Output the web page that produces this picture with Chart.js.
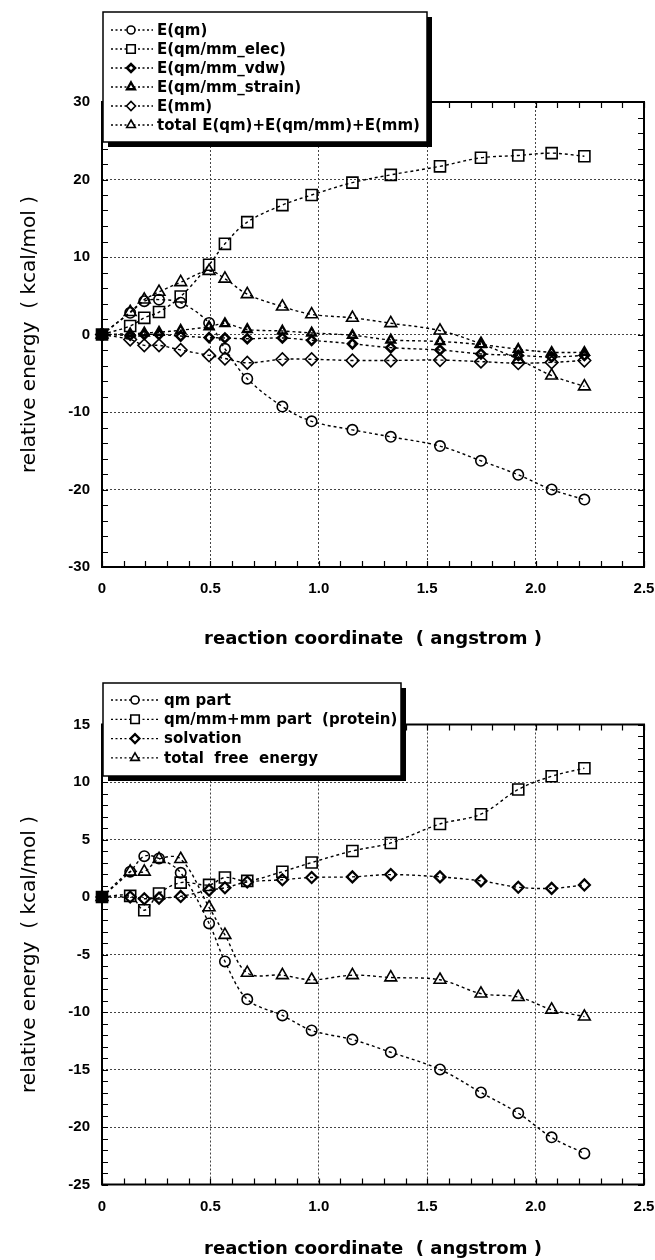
<!DOCTYPE html>
<html>
<head>
<meta charset="utf-8">
<script src="https://cdn.jsdelivr.net/npm/chart.js@4.4.1/dist/chart.umd.min.js"></script>
<style>
html,body{margin:0;padding:0;background:#fff;}
canvas{display:block;}
</style>
</head>
<body>
<canvas id="c1" width="655" height="650"></canvas>
<canvas id="c2" width="655" height="610"></canvas>
<script>
// ---------- data ----------
const xCoord = [0, 0.13, 0.195, 0.263, 0.363, 0.494, 0.567, 0.67, 0.832, 0.967, 1.155, 1.332, 1.559, 1.748, 1.92, 2.074, 2.225];
const xTicks = [0, 0.5, 1, 1.5, 2, 2.5];

const topLabels = ['E(qm)', 'E(qm/mm_elec)', 'E(qm/mm_vdw)', 'E(qm/mm_strain)', 'E(mm)', 'total E(qm)+E(qm/mm)+E(mm)'];
const eQm     = [0, 2.8, 4.3, 4.5, 4.1, 1.5, -1.85, -5.7, -9.3, -11.2, -12.3, -13.2, -14.4, -16.3, -18.1, -20.0, -21.3];
const eElec   = [0, 1.1, 2.15, 2.9, 4.9, 9.0, 11.7, 14.5, 16.7, 18.0, 19.6, 20.6, 21.7, 22.8, 23.1, 23.4, 23.0];
const eVdw    = [0, -0.1, 0, 0, -0.2, -0.4, -0.45, -0.55, -0.45, -0.75, -1.2, -1.7, -2.0, -2.5, -2.7, -2.9, -2.7];
const eStrain = [0, 0.1, 0.2, 0.3, 0.55, 1.0, 1.4, 0.65, 0.45, 0.2, -0.1, -0.7, -0.9, -1.3, -1.9, -2.3, -2.3];
const eMm     = [0, -0.65, -1.4, -1.4, -2.0, -2.7, -3.1, -3.65, -3.2, -3.2, -3.35, -3.35, -3.3, -3.5, -3.7, -3.6, -3.35];
const eTotal  = [0, 2.9, 4.5, 5.5, 6.75, 8.2, 7.2, 5.2, 3.6, 2.6, 2.15, 1.45, 0.5, -1.2, -3.2, -5.3, -6.7];
const topYTicks = [-30, -20, -10, 0, 10, 20, 30];

const botLabels = ['qm part', 'qm/mm+mm part  (protein)', 'solvation', 'total  free  energy'];
const qmPart    = [0, 2.2, 3.55, 3.35, 2.1, -2.3, -5.6, -8.9, -10.3, -11.6, -12.4, -13.5, -15.0, -17.0, -18.8, -20.9, -22.3];
const protein   = [0, 0.1, -1.15, 0.3, 1.25, 1.05, 1.7, 1.4, 2.2, 3.0, 4.0, 4.7, 6.35, 7.2, 9.35, 10.5, 11.2];
const solvation = [0, 0, -0.15, -0.1, 0.05, 0.6, 0.8, 1.3, 1.5, 1.7, 1.75, 1.95, 1.75, 1.4, 0.85, 0.75, 1.05];
const totalFree = [0, 2.2, 2.2, 3.3, 3.3, -0.9, -3.3, -6.6, -6.8, -7.2, -6.8, -7.0, -7.2, -8.4, -8.7, -9.8, -10.4];
const botYTicks = [-25, -20, -15, -10, -5, 0, 5, 10, 15];

const xTitle = 'reaction coordinate  ( angstrom )';
const yTitle = 'relative energy  ( kcal/mol )';

// ---------- styles ----------
const topMarkers = [
  {style: 'circle', r: 5.2, bw: 1.6, lr: 4},
  {style: 'rect', r: 7.8, bw: 1.6, lr: 6},
  {style: 'rectRot', r: 4.5, bw: 2.6, lr: 4},
  {style: 'triangle', r: 5, bw: 2.4, lr: 4.5},
  {style: 'rectRot', r: 6.3, bw: 1.6, lr: 4.5},
  {style: 'triangle', r: 6.8, bw: 1.6, lr: 5}
];
const botMarkers = [
  {style: 'circle', r: 5.2, bw: 1.6, lr: 4},
  {style: 'rect', r: 7.8, bw: 1.6, lr: 6},
  {style: 'rectRot', r: 5.5, bw: 2.2, lr: 4.5},
  {style: 'triangle', r: 6.8, bw: 1.6, lr: 5}
];

Chart.defaults.font.family = 'DejaVu Sans';
Chart.defaults.color = '#000';

function buildDatasets(labels, series, markers) {
  return series.map((vals, i) => ({
    label: labels[i],
    data: xCoord.map((x, j) => ({x: x, y: vals[j]})),
    showLine: true,
    borderColor: '#000',
    borderWidth: 1.4,
    borderDash: [3, 3],
    tension: 0.35,
    pointStyle: markers[i].style,
    pointRadius: markers[i].r,
    pointHoverRadius: markers[i].r,
    pointBorderWidth: markers[i].bw,
    pointBorderColor: '#000',
    pointBackgroundColor: markers[i].style === 'rect' ? xCoord.map((x, j) => j === 0 ? '#000' : 'rgba(0,0,0,0)') : 'rgba(0,0,0,0)',
    clip: false,
    _legendR: markers[i].lr
  }));
}

const decorPlugin = {
  id: 'decor',
  afterDraw(chart, args, opts) {
    const {ctx, chartArea: a, scales: {x, y}} = chart;
    ctx.save();
    ctx.strokeStyle = '#000';
    ctx.lineWidth = 1.2;
    ctx.setLineDash([]);
    const tl = 6;
    ctx.beginPath();
    const nx = Math.round((x.max - x.min) / opts.xMinor);
    for (let i = 0; i <= nx; i++) {
      const px = Math.round(x.getPixelForValue(x.min + i * opts.xMinor)) + 0.5;
      ctx.moveTo(px, a.bottom); ctx.lineTo(px, a.bottom - tl);
      ctx.moveTo(px, a.top); ctx.lineTo(px, a.top + tl);
    }
    const ny = Math.round((y.max - y.min) / opts.yMinor);
    for (let i = 0; i <= ny; i++) {
      const py = Math.round(y.getPixelForValue(y.min + i * opts.yMinor)) + 0.5;
      ctx.moveTo(a.left, py); ctx.lineTo(a.left + tl, py);
      ctx.moveTo(a.right, py); ctx.lineTo(a.right - tl, py);
    }
    ctx.stroke();
    ctx.lineWidth = 2;
    ctx.strokeRect(a.left, a.top, a.right - a.left, a.bottom - a.top);

    const L = opts.legend;
    ctx.fillStyle = '#000';
    ctx.fillRect(L.x + 5, L.y + 5, L.w, L.h);
    ctx.fillStyle = '#fff';
    ctx.fillRect(L.x, L.y, L.w, L.h);
    ctx.lineWidth = 1.5;
    ctx.strokeRect(L.x, L.y, L.w, L.h);
    ctx.font = 'bold ' + L.fontSize + 'px "DejaVu Sans"';
    ctx.textBaseline = 'middle';
    ctx.textAlign = 'left';
    chart.data.datasets.forEach((ds, i) => {
      const ry = L.row0 + i * L.rowH;
      ctx.save();
      ctx.strokeStyle = '#000';
      ctx.lineWidth = 1.3;
      ctx.setLineDash([2, 2.5]);
      ctx.beginPath();
      ctx.moveTo(L.lx1, ry); ctx.lineTo(L.lx2, ry);
      ctx.stroke();
      ctx.setLineDash([]);
      ctx.fillStyle = '#fff';
      ctx.strokeStyle = '#000';
      ctx.lineWidth = ds.pointBorderWidth;
      Chart.helpers.drawPoint(ctx, {pointStyle: ds.pointStyle, radius: ds._legendR, rotation: 0, borderWidth: ds.pointBorderWidth}, L.mx, ry);
      ctx.restore();
      ctx.fillStyle = '#000';
      ctx.fillText(ds.label, L.tx, ry + 1);
    });
    ctx.restore();
  }
};

const tickFont = {family: 'Liberation Sans', weight: 'bold', size: 15};

function makeChart(id, labels, series, markers, yMin, yMax, yMinor, yTickList, pad, xAxisH, legend) {
  return new Chart(document.getElementById(id), {
    type: 'scatter',
    data: {datasets: buildDatasets(labels, series, markers)},
    options: {
      responsive: false,
      animation: false,
      devicePixelRatio: 1,
      layout: {padding: pad},
      plugins: {
        legend: {display: false},
        tooltip: {enabled: false},
        decor: {xMinor: 0.1, yMinor: yMinor, legend: legend}
      },
      scales: {
        x: {
          type: 'linear', min: xTicks[0], max: xTicks[xTicks.length - 1],
          afterBuildTicks: s => { s.ticks = xTicks.map(v => ({value: v})); },
          ticks: {padding: 13, color: '#000', maxRotation: 0, font: tickFont},
          grid: {color: '#444', lineWidth: 1, drawTicks: false, borderDash: [2, 2]},
          border: {display: false, dash: [2, 2]},
          title: {display: true, text: xTitle, color: '#000', font: {family: 'DejaVu Sans', weight: 'bold', size: 18}, padding: {top: 0, bottom: 0}},
          afterFit: s => { s.height = xAxisH; s.paddingLeft = 0; s.paddingRight = 0; }
        },
        y: {
          type: 'linear', min: yMin, max: yMax,
          afterBuildTicks: s => { s.ticks = yTickList.map(v => ({value: v})); },
          ticks: {padding: 12, color: '#000', font: tickFont},
          grid: {color: '#444', lineWidth: 1, drawTicks: false, borderDash: [2, 2]},
          border: {display: false, dash: [2, 2]},
          title: {display: true, text: yTitle, color: '#000', font: {family: 'DejaVu Sans', size: 20}, padding: {top: 18, bottom: 0}},
          afterFit: s => { s.width = 102; s.paddingTop = 0; s.paddingBottom = 0; }
        }
      }
    },
    plugins: [decorPlugin]
  });
}

makeChart('c1', topLabels, [eQm, eElec, eVdw, eStrain, eMm, eTotal], topMarkers,
  -30, 30, 2, topYTicks,
  {left: 0, right: 11, top: 102, bottom: 0}, 83,
  {x: 103, y: 12, w: 324, h: 130, row0: 30, rowH: 19, lx1: 111, lx2: 153, mx: 131, tx: 157, fontSize: 15});

makeChart('c2', botLabels, [qmPart, protein, solvation, totalFree], botMarkers,
  -25, 15, 1, botYTicks,
  {left: 0, right: 11, top: 74.5, bottom: 0}, 75.5,
  {x: 103, y: 33, w: 298, h: 93, row0: 50, rowH: 19.3, lx1: 111, lx2: 158, mx: 135, tx: 164, fontSize: 15});
</script>
</body>
</html>
